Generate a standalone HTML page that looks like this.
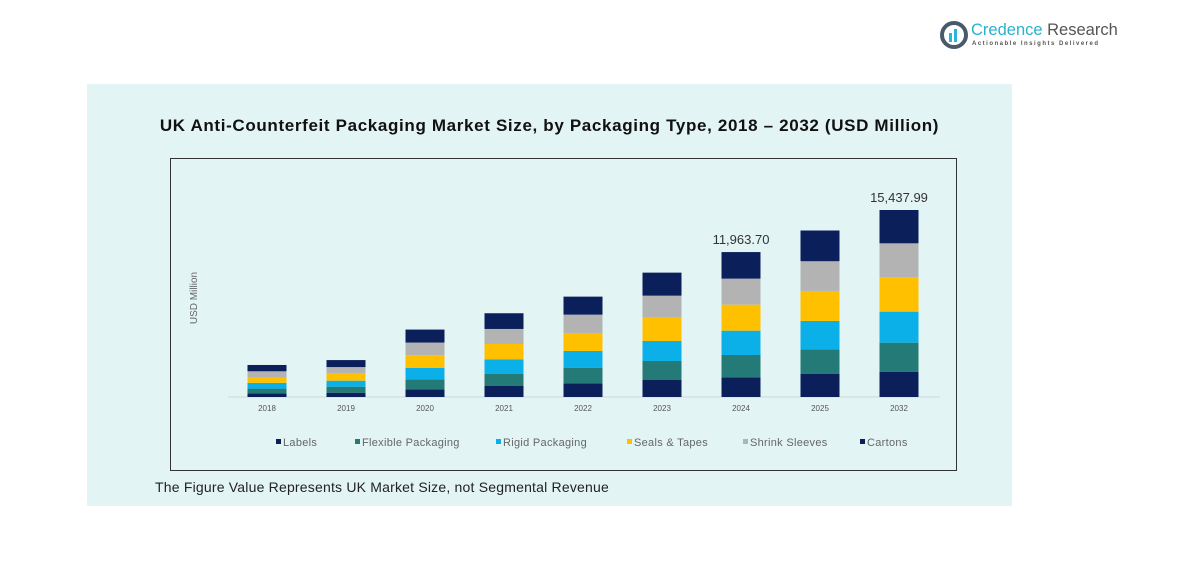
<!DOCTYPE html>
<html><head><meta charset="utf-8"><style>
body{margin:0;width:1193px;height:570px;background:#fff;font-family:"Liberation Sans",sans-serif;position:relative;overflow:hidden}
.abs{position:absolute}
</style></head><body>
<div class="abs" style="left:940px;top:20px;width:180px;height:32px">
<svg width="32" height="30"><circle cx="14" cy="15" r="12" fill="none" stroke="#4a5a6a" stroke-width="4"/><rect x="9" y="13" width="3" height="9" fill="#29b5d8"/><rect x="14" y="9" width="3" height="13" fill="#29b5d8"/></svg>
<div class="abs" style="left:31px;top:1px;font-size:16.5px;color:#2ab0d0;white-space:nowrap">Credence <span style="color:#555">Research</span></div>
<div class="abs" style="left:32px;top:21px;font-size:6px;letter-spacing:1.5px;color:#555;white-space:nowrap;font-weight:bold">Actionable Insights Delivered</div>
</div>
<div class="abs" style="left:87px;top:84px;width:925px;height:422px;background:#e3f4f5"></div>
<div class="abs" style="left:87px;top:116px;width:925px;text-align:center;font-size:17px;letter-spacing:0.65px;font-weight:bold;color:#111">UK Anti-Counterfeit Packaging Market Size, by Packaging Type, 2018 – 2032 (USD Million)</div>
<div class="abs" style="left:170px;top:158px;width:785px;height:311px;border:1px solid #333"></div>
<div class="abs" style="left:155px;top:479px;font-size:14px;letter-spacing:0.2px;color:#222">The Figure Value Represents UK Market Size, not Segmental Revenue</div>
<svg class="abs" style="left:0;top:0" width="1193" height="570" id="chart"></svg>
<script>
const categories=["2018","2019","2020","2021","2022","2023","2024","2025","2032"];
const seriesNames=["Labels","Flexible Packaging","Rigid Packaging","Seals & Tapes","Shrink Sleeves","Cartons"];
const labels=[306,355,636,909,1132,1404,1627,1900,2090];
const flexible=[388,496,826,991,1264,1569,1842,2040,2395];
const rigid=[471,496,933,1214,1404,1652,2007,2338,2561];
const seals=[438,603,1049,1264,1487,1925,2148,2478,2833];
const shrink=[520,520,1049,1239,1512,1817,2148,2453,2808];
const cartons=[520,578,1074,1297,1487,1900,2192,2536,2751];
const totalLabels={"2024":"11,963.70","2032":"15,437.99"};
const colors=["#0b1f5b","#237a76","#0cb0e8","#ffc000","#b3b3b3","#0b1f5b"];
const series=[labels,flexible,rigid,seals,shrink,cartons];
const NS="http://www.w3.org/2000/svg";
const svg=document.getElementById("chart");
const baseY=397,pxPer=187/15438;
const x0=267,step=79,bw=39;
const xPos=i=>x0+i*step;
const yLen=v=>v*pxPer;
function mk(t,a){const e=document.createElementNS(NS,t);for(const k in a)e.setAttribute(k,a[k]);svg.appendChild(e);return e;}
const ax=mk("line",{x1:228,x2:940,y1:baseY,y2:baseY,stroke:"#cfd8dc","stroke-width":1});


categories.forEach((c,i)=>{
  let acc=0;
  series.forEach((s,k)=>{
    const h=yLen(s[i]);
    const r=mk("rect",{x:xPos(i)-bw/2,y:baseY-yLen(acc)-h,width:bw,height:h,fill:colors[k]});
    
    
    acc+=s[i];
  });
  const t=mk("text",{x:xPos(i),y:411,"text-anchor":"middle","font-size":8,fill:"#555"});
  t.textContent=c;
  
  
  if(totalLabels[c]){
    const tl=mk("text",{x:xPos(i),y:baseY-yLen(acc)-8,"text-anchor":"middle","font-size":13,fill:"#333"});
    tl.textContent=totalLabels[c];
    
    
  }
});
const yt=mk("text",{x:197,y:298,"text-anchor":"middle","font-size":10,fill:"#666",transform:"rotate(-90 197 298)"});
yt.textContent="USD Million";


const legX=[276,355,496,627,743,860];
seriesNames.forEach((n,k)=>{
  const m=mk("rect",{x:legX[k],y:439,width:5,height:5,fill:colors[k]});
  
  
  const t=mk("text",{x:legX[k]+7,y:446,"font-size":11,fill:"#666","letter-spacing":"0.3"});
  t.textContent=n;
  
  
});
</script>
</body></html>
